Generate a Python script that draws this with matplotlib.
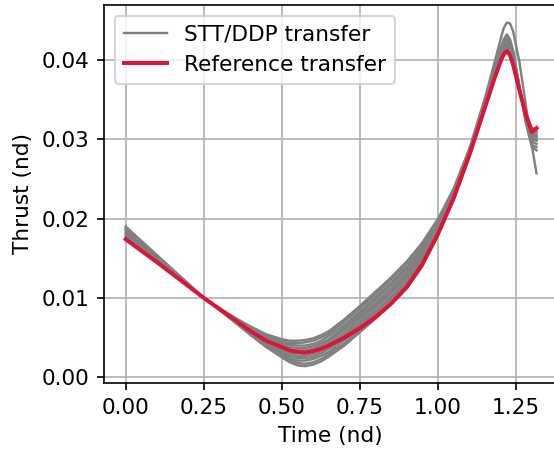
import numpy as np
import matplotlib
matplotlib.use("Agg")
import matplotlib.pyplot as plt

# time grid (nd) shared by all transfers
time = [0.00, 0.10, 0.20, 0.25, 0.30, 0.35, 0.40, 0.45, 0.50, 0.525,
        0.55, 0.575, 0.60, 0.625, 0.65, 0.70, 0.75, 0.80, 0.85, 0.90,
        0.95, 1.00, 1.05, 1.10, 1.15, 1.18, 1.20, 1.21, 1.22, 1.23,
        1.24, 1.26, 1.28, 1.30, 1.315]

# reference transfer thrust (nd)
reference = [0.0174, 0.0145, 0.0115, 0.0100, 0.0086, 0.0072, 0.0058, 0.0046, 0.0038, 0.0034,
             0.0032, 0.0031, 0.0033, 0.0036, 0.0040, 0.0050, 0.0062, 0.0076, 0.0093, 0.0114,
             0.0143, 0.0181, 0.0226, 0.0280, 0.0340, 0.0376, 0.0398, 0.0407, 0.0411, 0.0406,
             0.0394, 0.0362, 0.0332, 0.0309, 0.0314]

# STT/DDP transfers (lowest minimum first)
stt_0 = [0.0173, 0.0145, 0.0115, 0.0100, 0.0085, 0.0069, 0.0053, 0.0038, 0.0025, 0.0019,
         0.0015, 0.0014, 0.0016, 0.0020, 0.0026, 0.0040, 0.0057, 0.0074, 0.0092, 0.0112,
         0.0140, 0.0179, 0.0224, 0.0278, 0.0339, 0.0375, 0.0397, 0.0406, 0.0411, 0.0406,
         0.0394, 0.0362, 0.0334, 0.0314, 0.0313]
stt_1 = [0.0175, 0.0146, 0.0115, 0.0100, 0.0085, 0.0070, 0.0054, 0.0040, 0.0027, 0.0022,
         0.0018, 0.0017, 0.0019, 0.0023, 0.0029, 0.0043, 0.0060, 0.0077, 0.0095, 0.0115,
         0.0143, 0.0181, 0.0225, 0.0279, 0.0340, 0.0377, 0.0400, 0.0409, 0.0414, 0.0409,
         0.0397, 0.0363, 0.0333, 0.0311, 0.0310]
stt_2 = [0.0176, 0.0147, 0.0116, 0.0100, 0.0085, 0.0070, 0.0055, 0.0041, 0.0030, 0.0024,
         0.0021, 0.0021, 0.0023, 0.0027, 0.0032, 0.0047, 0.0064, 0.0081, 0.0099, 0.0119,
         0.0146, 0.0183, 0.0227, 0.0280, 0.0341, 0.0378, 0.0401, 0.0411, 0.0416, 0.0411,
         0.0398, 0.0364, 0.0332, 0.0310, 0.0308]
stt_3 = [0.0178, 0.0148, 0.0116, 0.0100, 0.0086, 0.0071, 0.0056, 0.0043, 0.0032, 0.0027,
         0.0024, 0.0024, 0.0026, 0.0030, 0.0036, 0.0050, 0.0067, 0.0084, 0.0102, 0.0122,
         0.0149, 0.0185, 0.0228, 0.0281, 0.0341, 0.0379, 0.0403, 0.0413, 0.0418, 0.0413,
         0.0400, 0.0364, 0.0331, 0.0307, 0.0305]
stt_4 = [0.0180, 0.0149, 0.0116, 0.0100, 0.0086, 0.0071, 0.0057, 0.0044, 0.0034, 0.0030,
         0.0027, 0.0027, 0.0029, 0.0033, 0.0039, 0.0053, 0.0070, 0.0088, 0.0106, 0.0126,
         0.0152, 0.0187, 0.0230, 0.0282, 0.0342, 0.0380, 0.0405, 0.0415, 0.0420, 0.0415,
         0.0402, 0.0365, 0.0330, 0.0305, 0.0303]
stt_5 = [0.0182, 0.0150, 0.0116, 0.0100, 0.0086, 0.0072, 0.0058, 0.0046, 0.0036, 0.0032,
         0.0030, 0.0030, 0.0032, 0.0036, 0.0042, 0.0056, 0.0074, 0.0091, 0.0109, 0.0129,
         0.0155, 0.0190, 0.0231, 0.0283, 0.0342, 0.0382, 0.0406, 0.0416, 0.0422, 0.0416,
         0.0403, 0.0365, 0.0328, 0.0302, 0.0300]
stt_6 = [0.0183, 0.0150, 0.0117, 0.0100, 0.0086, 0.0073, 0.0060, 0.0048, 0.0039, 0.0035,
         0.0034, 0.0034, 0.0036, 0.0040, 0.0045, 0.0060, 0.0077, 0.0094, 0.0112, 0.0132,
         0.0158, 0.0192, 0.0232, 0.0284, 0.0343, 0.0383, 0.0409, 0.0419, 0.0425, 0.0419,
         0.0406, 0.0366, 0.0328, 0.0300, 0.0298]
stt_7 = [0.0185, 0.0151, 0.0117, 0.0100, 0.0086, 0.0073, 0.0061, 0.0049, 0.0041, 0.0038,
         0.0037, 0.0037, 0.0039, 0.0043, 0.0048, 0.0063, 0.0080, 0.0098, 0.0116, 0.0136,
         0.0161, 0.0194, 0.0234, 0.0285, 0.0344, 0.0385, 0.0411, 0.0422, 0.0428, 0.0422,
         0.0408, 0.0367, 0.0326, 0.0297, 0.0294]
stt_8 = [0.0187, 0.0152, 0.0117, 0.0100, 0.0087, 0.0074, 0.0062, 0.0051, 0.0043, 0.0041,
         0.0040, 0.0040, 0.0042, 0.0046, 0.0052, 0.0066, 0.0083, 0.0101, 0.0119, 0.0139,
         0.0164, 0.0196, 0.0235, 0.0286, 0.0345, 0.0386, 0.0413, 0.0424, 0.0430, 0.0424,
         0.0410, 0.0367, 0.0324, 0.0293, 0.0290]
stt_9 = [0.0188, 0.0153, 0.0118, 0.0100, 0.0087, 0.0074, 0.0063, 0.0052, 0.0046, 0.0043,
         0.0043, 0.0044, 0.0046, 0.0050, 0.0055, 0.0070, 0.0087, 0.0105, 0.0123, 0.0143,
         0.0167, 0.0198, 0.0237, 0.0287, 0.0345, 0.0388, 0.0415, 0.0426, 0.0432, 0.0426,
         0.0412, 0.0367, 0.0322, 0.0290, 0.0286]
stt_10 = [0.0190, 0.0154, 0.0118, 0.0100, 0.0087, 0.0075, 0.0064, 0.0054, 0.0048, 0.0046,
          0.0046, 0.0047, 0.0049, 0.0053, 0.0058, 0.0073, 0.0090, 0.0108, 0.0126, 0.0146,
          0.0170, 0.0200, 0.0238, 0.0288, 0.0352, 0.0396, 0.0426, 0.0440, 0.0447, 0.0446,
          0.0436, 0.0398, 0.0345, 0.0292, 0.0257]

stt_runs = [stt_0, stt_1, stt_2, stt_3, stt_4, stt_5, stt_6, stt_7, stt_8, stt_9, stt_10]

plt.rcParams['font.size'] = 10.4

fig = plt.figure(figsize=(554 / 150, 456 / 150), dpi=150)
ax = fig.add_axes([104 / 554, 0.1601, 0.8185, 0.8296])

for i, run in enumerate(stt_runs):
    ax.plot(time, run, color="gray", lw=1.15, label="STT/DDP transfer" if i == 0 else None)
ax.plot(time, reference, color="crimson", lw=1.9, label="Reference transfer")

ax.set_xlim(-0.0695, 1.382)
ax.set_ylim(-0.00072, 0.04695)
ax.set_xticks([0.0, 0.25, 0.5, 0.75, 1.0, 1.25])
ax.set_xlabel("Time (nd)")
ax.set_ylabel("Thrust (nd)")
ax.grid(True)
ax.legend(loc="upper left")

fig.savefig("out.png", dpi=150)
